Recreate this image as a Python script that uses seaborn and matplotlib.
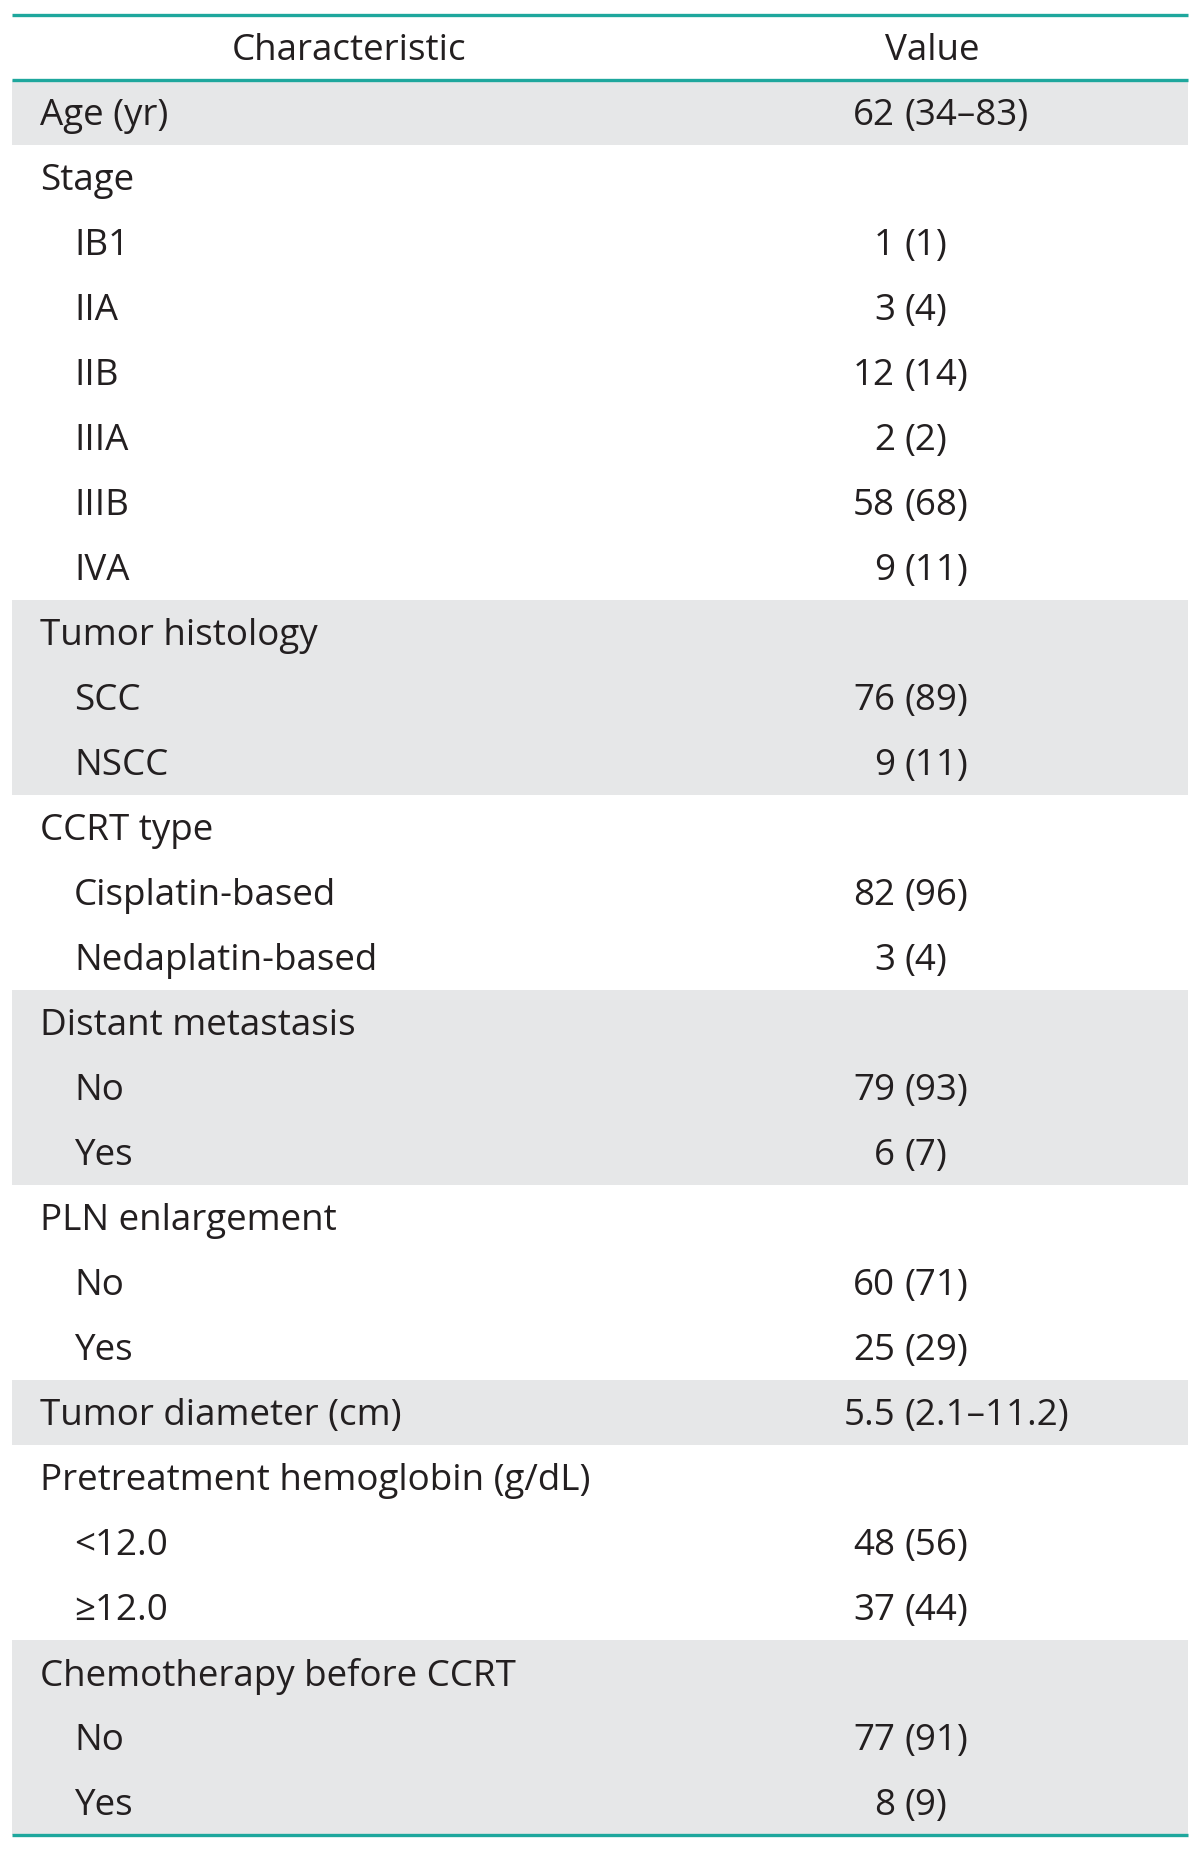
import matplotlib
matplotlib.use("Agg")
import matplotlib.pyplot as plt
import seaborn as sns

labels = ["Age (yr)", "Stage", "IB1", "IIA", "IIB", "IIIA", "IIIB", "IVA",
          "Tumor histology", "SCC", "NSCC", "CCRT type", "Cisplatin-based",
          "Nedaplatin-based", "Distant metastasis", "No", "Yes",
          "PLN enlargement", "No", "Yes", "Tumor diameter (cm)",
          "Pretreatment hemoglobin (g/dL)", "<12.0", "\u226512.0",
          "Chemotherapy before CCRT", "No", "Yes"]
values = ["62 (34\u201383)", "", "1 (1)", "3 (4)", "12 (14)", "2 (2)", "58 (68)", "9 (11)",
          "", "76 (89)", "9 (11)", "", "82 (96)", "3 (4)", "", "79 (93)", "6 (7)",
          "", "60 (71)", "25 (29)", "5.5 (2.1\u201311.2)", "", "48 (56)", "37 (44)",
          "", "77 (91)", "8 (9)"]
indented = [False, False, True, True, True, True, True, True,
            False, True, True, False, True, True, False, True, True,
            False, True, True, False, False, True, True, False, True, True]
shaded_rows = [0, 8, 9, 10, 14, 15, 16, 20, 24, 25, 26]
headers = ["Characteristic", "Value"]

sns.set_theme(style="white")
plt.rcParams['font.family'] = ['Open Sans', 'DejaVu Sans']

W, H = 1200, 1850
fig = plt.figure(figsize=(W / 100, H / 100), dpi=100)
top_px, bot_px = 15, 1835
ax = fig.add_axes([0, 1 - bot_px / H, 1, (bot_px - top_px) / H])
ax.set_xlim(0, W)
ax.set_ylim(len(labels) - 0.5, -1.5)
ax.axis("off")

teal = "#1EA79D"
txt = "#231F20"
fs = 26.5
dy = 0.06
left, right = 12, 1188

ax.barh(shaded_rows, right - left, left=left, height=1.0, color="#E6E7E8", linewidth=0)
for y in [-1.5, -0.5, len(labels) - 0.5]:
    ax.plot([left, right], [y, y], color=teal, lw=2.4, solid_capstyle="butt", clip_on=False)

ax.text(349, -1 + dy, headers[0], ha="center", va="center", fontsize=fs, color=txt)
ax.text(932, -1 + dy, headers[1], ha="center", va="center", fontsize=fs, color=txt)

for i, (lab, val, ind) in enumerate(zip(labels, values, indented)):
    ax.text(74 if ind else 40, i + dy, lab, ha="left", va="center", fontsize=fs, color=txt)
    if val:
        num, rest = val.split(" ", 1)
        ax.text(895, i + dy, num, ha="right", va="center", fontsize=fs, color=txt)
        ax.text(904, i + dy, rest, ha="left", va="center", fontsize=fs, color=txt)

fig.savefig("out.png", dpi=100)
